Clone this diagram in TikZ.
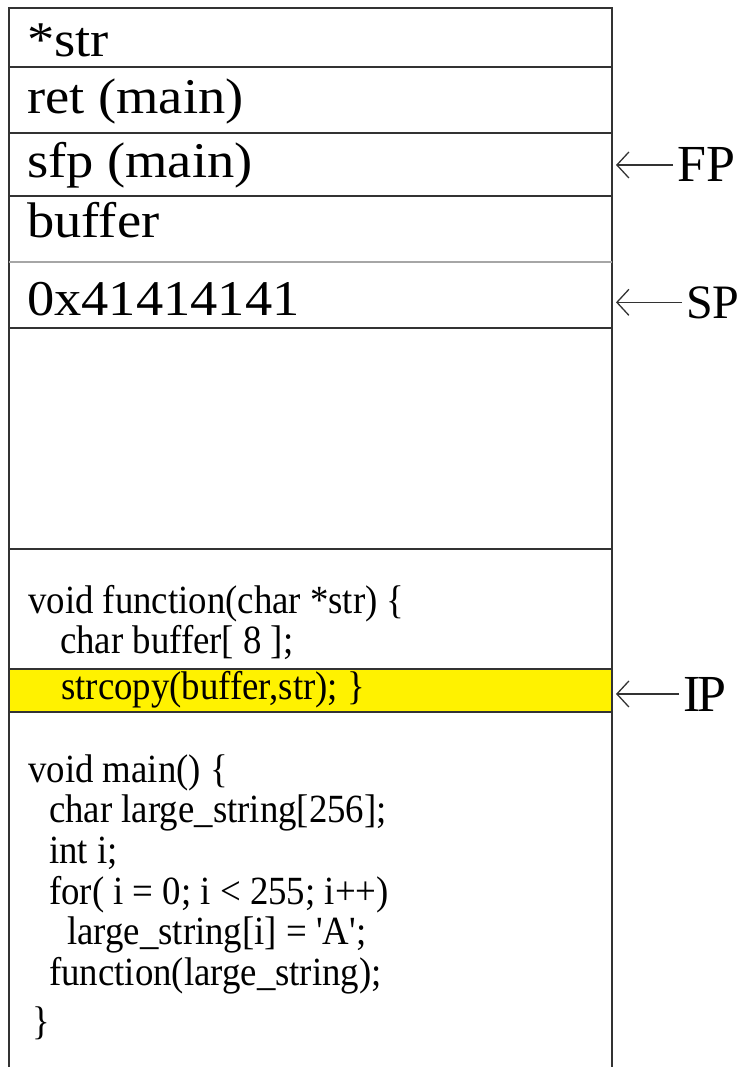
\documentclass[tikz,border=0pt]{standalone}
\usepackage{fontspec}
\usetikzlibrary{arrows.meta}
\setmainfont{Liberation Serif}
\newfontfamily\slotfont[FakeStretch=1.09]{Liberation Serif}
\newfontfamily\codefont[FakeStretch=0.92]{Liberation Serif}
\begin{document}
\begin{tikzpicture}[x=1pt,y=-1pt,
  cellline/.style={draw=black!80,line width=1.8pt},
  thinline/.style={draw=black!35,line width=1.3pt},
  slot/.style={anchor=base west,inner sep=0pt,font=\slotfont\fontsize{50}{50}\selectfont},
  codeline/.style={anchor=base west,inner sep=0pt,font=\codefont\fontsize{40}{40}\selectfont},
  register/.style={anchor=base west,inner sep=0pt,font=\fontsize{52}{52}\selectfont},
  ptr/.style={draw=black!80,line width=1.5pt,shorten <=4pt,
    -{Straight Barb[length=12pt,width=26pt,line width=1.3pt]}}]
\useasboundingbox (0,0) rectangle (745,1067);
% highlighted instruction
\fill[yellow] (9,669) rectangle (612,712);
% stack frame
\draw[cellline] (9,1067) -- (9,8) -- (612,8) -- (612,1067);
\draw[cellline] (9,67) -- (612,67);
\draw[cellline] (9,133) -- (612,133);
\draw[cellline] (9,196) -- (612,196);
\draw[thinline] (9,262) -- (612,262);
\draw[cellline] (9,328) -- (612,328);
\draw[cellline] (9,549) -- (612,549);
\draw[cellline] (9,669) -- (612,669);
\draw[cellline] (9,712) -- (612,712);
% stack contents
\node[slot] (str) at (27,57) {*str};
\node[slot] (ret) at (27,114) {ret (main)};
\node[slot] (sfp) at (27,178) {sfp (main)};
\node[slot] (buf) at (27,238) {buffer};
\node[slot] (aaa) at (27,315) {0x41414141};
% registers pointing at the frame
\coordinate (edge) at (616,0);
\node[register] (fp) at (677,182) {FP};
\node[register,font=\fontsize{48}{48}\selectfont] (sp) at (686,318) {SP};
\node[register] (ip) at (683,711) {I\kern-3ptP};
\draw[ptr] (fp.west) -- (fp.west -| edge);
\draw[ptr] (sp.west) -- (sp.west -| edge);
\draw[ptr] (ip.west) -- (ip.west -| edge);
% program text
\node[codeline] (c1) at (28,613) {void function(char *str) \{};
\node[codeline] (c2) at (60,653) {char buffer[ 8 ];};
\node[codeline] (c3) at (61,699) {strcopy(buffer,str); \}};
\node[codeline] (m1) at (28,782) {void main() \{};
\node[codeline] (m2) at (49,822) {char large\_string[256];};
\node[codeline] (m3) at (49,863) {int i;};
\node[codeline] (m4) at (49,904) {for( i = 0; i < 255; i++)};
\node[codeline] (m5) at (67,944) {large\_string[i] = 'A';};
\node[codeline] (m6) at (49,985) {function(large\_string);};
\node[codeline] (m7) at (32,1034) {\}};
\end{tikzpicture}
\end{document}
